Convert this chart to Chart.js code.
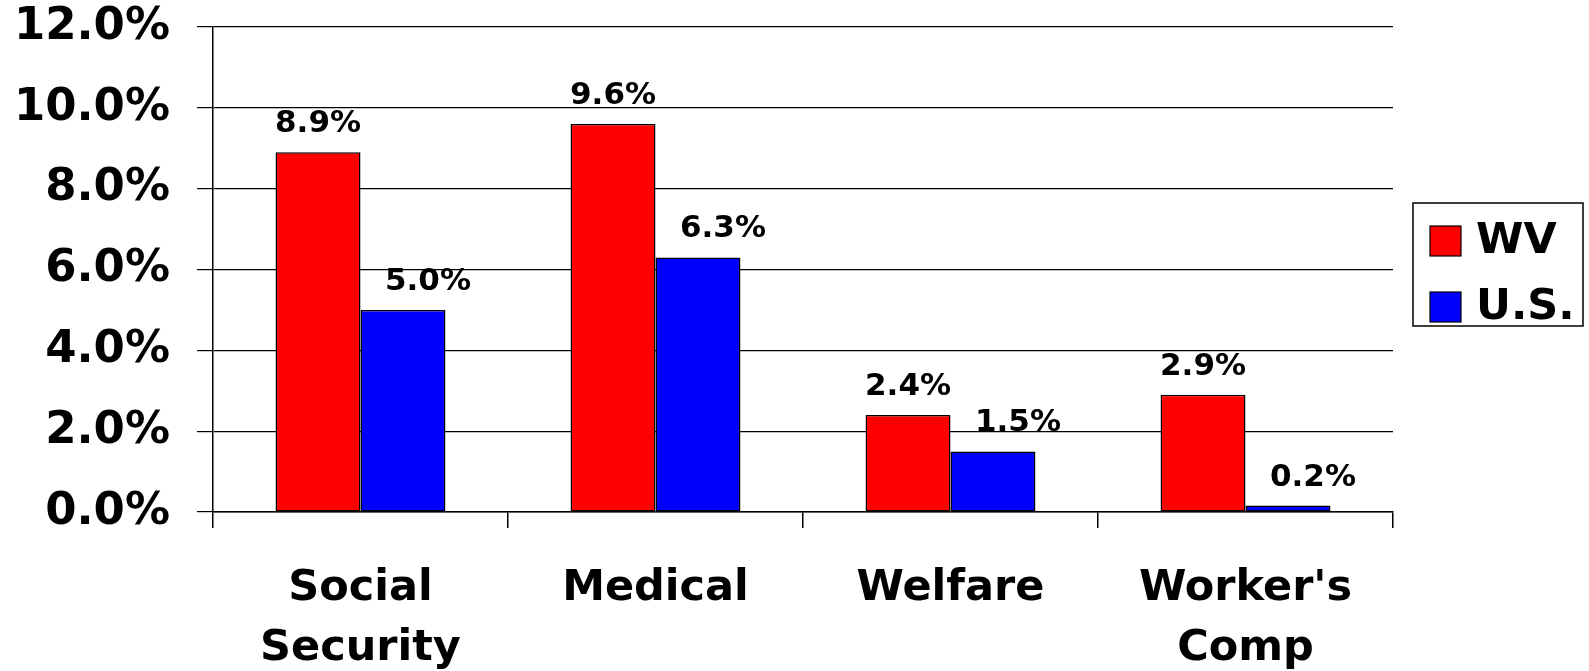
<!DOCTYPE html>
<html>
<head>
<meta charset="utf-8">
<script src="https://cdn.jsdelivr.net/npm/chart.js@4"></script>
<style>
  body { margin: 0; background: #fff; }
  #wrap { width: 1589px; height: 671px; }
</style>
</head>
<body>
<div id="wrap"><canvas id="benefitsChart"></canvas></div>
<script>
var categories = [['Social', 'Security'], 'Medical', 'Welfare', ["Worker's", 'Comp']];
var wvValues = [8.9, 9.6, 2.4, 2.9];
var usValues = [5.0, 6.3, 1.5, 0.16];
var seriesNames = ['WV', 'U.S.'];
var yTicks = [0, 2, 4, 6, 8, 10, 12];

var FONT = "'DejaVu Sans', Verdana, sans-serif";

// value labels above each bar (U.S. labels sit a bit to the right, as in the original)
var barLabels = {
    id: 'barLabels',
    afterDatasetsDraw: function(chart) {
        var ctx = chart.ctx;
        ctx.save();
        ctx.font = 'bold 31px ' + FONT;
        ctx.fillStyle = '#000';
        ctx.textAlign = 'center';
        ctx.textBaseline = 'alphabetic';
        chart.data.datasets.forEach(function(ds, i) {
            var shift = i === 1 ? 25 : 0;
            chart.getDatasetMeta(i).data.forEach(function(bar, j) {
                ctx.fillText(ds.data[j].toFixed(1) + '%', bar.x + shift, bar.y - 20);
            });
        });
        ctx.restore();
    }
};

// boxed legend at the right, like the original
var boxLegend = {
    id: 'boxLegend',
    afterDraw: function(chart) {
        var ctx = chart.ctx;
        var left = chart.chartArea.right + 20;
        var top = 203;
        ctx.save();
        ctx.strokeStyle = '#000';
        ctx.lineWidth = 1.5;
        ctx.strokeRect(left, top, 170, 123);
        ctx.font = 'bold 43px ' + FONT;
        ctx.textBaseline = 'middle';
        chart.data.datasets.forEach(function(ds, i) {
            var y = top + 23 + i * 66;
            ctx.fillStyle = ds.backgroundColor;
            ctx.fillRect(left + 17, y, 31, 30);
            ctx.lineWidth = 1.2;
            ctx.strokeRect(left + 17, y, 31, 30);
            ctx.fillStyle = '#000';
            ctx.fillText(ds.label, left + 63, y + 16);
        });
        ctx.restore();
    }
};

var benefitsConfig = {
    type: 'bar',
    data: {
        labels: categories,
        datasets: [{
            label: seriesNames[0],
            data: wvValues,
            backgroundColor: '#ff0000',
            borderColor: '#000',
            borderWidth: 1.5,
            borderSkipped: false
        }, {
            label: seriesNames[1],
            data: usValues,
            backgroundColor: '#0000ff',
            borderColor: '#000',
            borderWidth: 1.5,
            borderSkipped: false
        }]
    },
    options: {
        responsive: true,
        maintainAspectRatio: false,
        animation: false,
        layout: {
            padding: { top: 0, right: 196, left: 0, bottom: 0 }
        },
        datasets: {
            bar: { categoryPercentage: 0.576, barPercentage: 1.0 }
        },
        plugins: {
            legend: { display: false },
            tooltip: { enabled: false }
        },
        scales: {
            x: {
                grid: {
                    offset: true,
                    drawOnChartArea: false,
                    drawTicks: true,
                    tickLength: 16,
                    color: '#000',
                    lineWidth: 1.5
                },
                border: { display: true, color: '#000', width: 1.5 },
                ticks: {
                    color: '#000',
                    font: { family: FONT, size: 43, weight: 'bold', lineHeight: 1.4 },
                    padding: 31,
                    maxRotation: 0,
                    autoSkip: false
                },
                afterFit: function(scale) { scale.height = 159; }
            },
            y: {
                min: 0,
                max: 12,
                afterBuildTicks: function(scale) {
                    scale.ticks = yTicks.map(function(v) { return { value: v }; });
                },
                grid: {
                    color: '#000',
                    lineWidth: 1.2,
                    tickLength: 16
                },
                border: { display: true, color: '#000', width: 1.5 },
                ticks: {
                    color: '#000',
                    font: { family: FONT, size: 45, weight: 'bold' },
                    padding: 27,
                    callback: function(v) { return v.toFixed(1) + '%'; }
                },
                afterFit: function(scale) {
                    scale.width = 213;
                    scale.paddingTop = 27;
                    scale.paddingBottom = 0;
                }
            }
        }
    },
    plugins: [barLabels, boxLegend]
};

window.onload = function() {
    var ctx = document.getElementById('benefitsChart').getContext('2d');
    window.benefitsChart = new Chart(ctx, benefitsConfig);
};
</script>
</body>
</html>
